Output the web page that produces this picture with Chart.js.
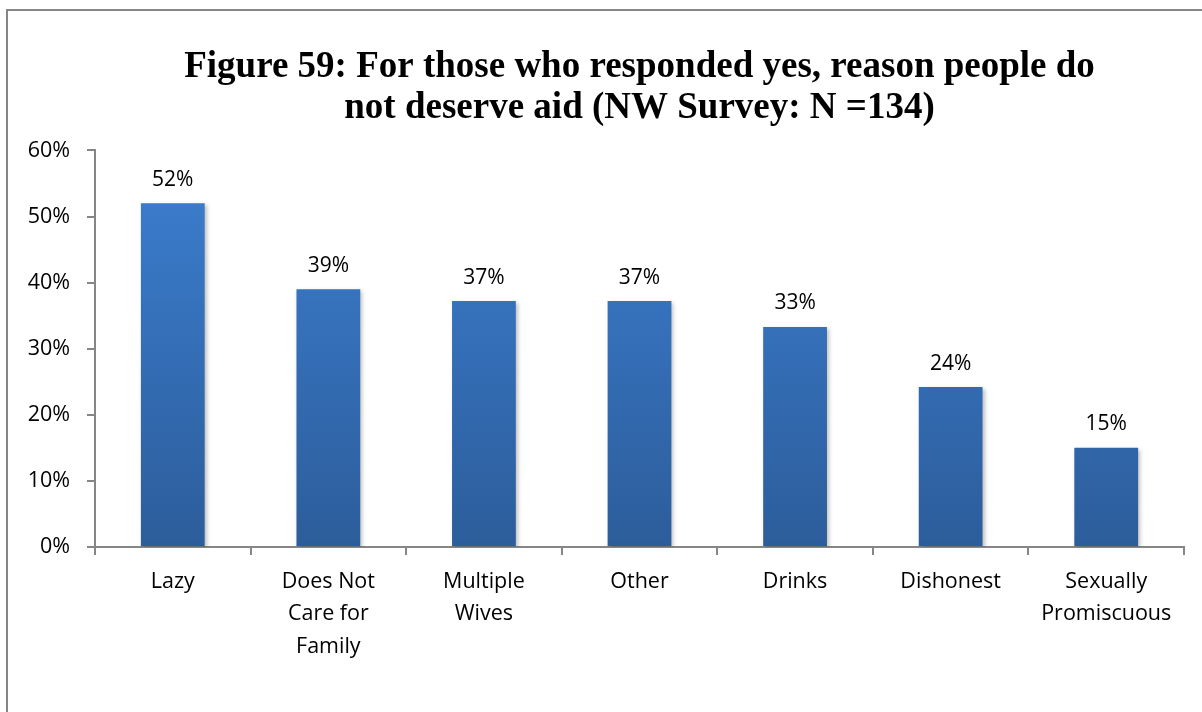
<!DOCTYPE html>
<html>
<head>
<meta charset="utf-8">
<script src="https://cdn.jsdelivr.net/npm/chart.js@4.4.1/dist/chart.umd.min.js"></script>
<style>
  html, body { margin: 0; padding: 0; background: #fff; }
  #wrap { width: 1202px; height: 712px; position: relative; }
</style>
</head>
<body>
<div id="wrap"><canvas id="chart" width="1202" height="712"></canvas></div>
<script>
const categories = [
  ['Lazy'],
  ['Does Not', 'Care for', 'Family'],
  ['Multiple', 'Wives'],
  ['Other'],
  ['Drinks'],
  ['Dishonest'],
  ['Sexually', 'Promiscuous']
]
const shares = [52, 39, 37.2, 37.2, 33.3, 24.2, 15]
const yTicks = [0, 10, 20, 30, 40, 50, 60]
const titleLines = [
  'Figure 59: For those who responded yes, reason people do',
  'not deserve aid (NW Survey: N =134)'
]

const labelFont = '"Open Sans", "Noto Sans", sans-serif'

// outer frame of the figure (left and top edges visible)
const framePlugin = {
  id: 'frame',
  beforeDraw(chart) {
    const ctx = chart.ctx
    ctx.save()
    ctx.strokeStyle = '#868686'
    ctx.lineWidth = 2
    ctx.strokeRect(7, 10, 1220, 740)
    ctx.restore()
  }
}

// percentage labels above each bar
const valueLabels = {
  id: 'valueLabels',
  afterDatasetsDraw(chart) {
    const ctx = chart.ctx
    const meta = chart.getDatasetMeta(0)
    ctx.save()
    ctx.fillStyle = '#000'
    ctx.font = '21px ' + labelFont
    ctx.textAlign = 'center'
    ctx.textBaseline = 'bottom'
    meta.data.forEach((bar, i) => {
      ctx.fillText(Math.round(shares[i]) + '%', bar.x, bar.y - 13)
    })
    ctx.restore()
  }
}

const barShadow = {
  id: 'barShadow',
  beforeDatasetsDraw(chart) {
    const ctx = chart.ctx
    ctx.save()
    ctx.shadowColor = 'rgba(0,0,0,0.25)'
    ctx.shadowBlur = 4
    ctx.shadowOffsetX = 2
    ctx.shadowOffsetY = 2
  },
  afterDatasetsDraw(chart) {
    chart.ctx.restore()
  }
}

function barGradient(context) {
  const area = context.chart.chartArea
  if (!area) return '#3a74c0'
  const g = context.chart.ctx.createLinearGradient(0, area.top, 0, area.bottom)
  g.addColorStop(0, '#3c7fd1')
  g.addColorStop(1, '#2c5d9b')
  return g
}

new Chart(document.getElementById('chart').getContext('2d'), {
  type: 'bar',
  data: {
    labels: categories,
    datasets: [{
      data: shares,
      backgroundColor: barGradient,
      borderWidth: 0,
      categoryPercentage: 1,
      barPercentage: 0.41
    }]
  },
  options: {
    responsive: false,
    animation: false,
    layout: { padding: { left: 0, right: 18, top: 0, bottom: 0 } },
    scales: {
      x: {
        offset: true,
        grid: {
          offset: true,
          drawOnChartArea: false,
          drawTicks: true,
          tickLength: 8,
          color: '#868686',
          lineWidth: 2
        },
        border: { color: '#868686', width: 2 },
        ticks: {
          color: '#000',
          font: { family: labelFont, size: 21.5, lineHeight: 1.53 },
          padding: 10,
          maxRotation: 0,
          autoSkip: false
        },
        afterFit(scale) { scale.height = 165 }
      },
      y: {
        min: 0,
        max: 60,
        afterBuildTicks(scale) { scale.ticks = yTicks.map(v => ({ value: v })) },
        grid: {
          drawOnChartArea: false,
          tickLength: 8,
          color: '#868686',
          lineWidth: 2
        },
        border: { color: '#868686', width: 2 },
        ticks: {
          color: '#000',
          font: { family: labelFont, size: 21.5 },
          padding: 17,
          callback: v => v + '%'
        },
        afterFit(scale) { scale.width = 95 }
      }
    },
    plugins: {
      legend: { display: false },
      tooltip: { enabled: false },
      title: {
        display: true,
        text: titleLines,
        fullSize: false,
        color: '#000',
        font: { family: '"Liberation Serif", "Times New Roman", serif', size: 37, weight: 'bold', lineHeight: 1.1 },
        padding: { top: 47, bottom: 22 }
      }
    }
  },
  plugins: [framePlugin, barShadow, valueLabels]
})
</script>
</body>
</html>
